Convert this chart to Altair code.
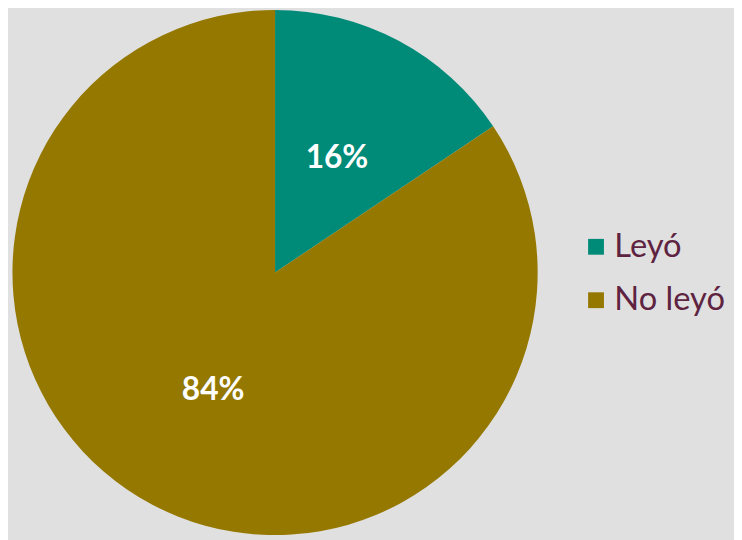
import altair as alt
import pandas as pd

categories = ["Leyó", "No leyó"]
values = [15.6, 84.4]
labels = ["16%", "84%"]
colors = ["#008a78", "#957800"]

df = pd.DataFrame({"cat": categories, "val": values, "lbl": labels, "ord": [0, 1]})

cx, cy, R = 270, 264.5, 265.5

base = alt.Chart(df).encode(
    theta=alt.Theta("val:Q", stack=True),
    order=alt.Order("ord:Q"),
)

pie = base.mark_arc(outerRadius=R, stroke=None).encode(
    x=alt.value(cx),
    y=alt.value(cy),
    color=alt.Color(
        "cat:N",
        scale=alt.Scale(domain=categories, range=colors),
        sort=categories,
        legend=alt.Legend(
            title=None,
            orient="none",
            legendX=578,
            legendY=222,
            symbolType="square",
            symbolSize=256,
            symbolStrokeWidth=0,
            labelFontSize=33,
            labelFont="Lato",
            labelColor="#5e2340",
            rowPadding=20,
            labelOffset=2,
        ),
    ),
)

text = base.mark_text(radius=133, fontSize=32, font="Lato", fontWeight="bold", color="white").encode(
    x=alt.value(cx),
    y=alt.value(cy + 2),
    text="lbl:N",
)

chart = (pie + text).properties(
    width=734,
    height=532,
    background="#e0e0e0",
    padding=0,
    autosize=alt.AutoSizeParams(type="none"),
).configure_view(stroke=None)

chart.save("out.html", embed_options={"renderer": "svg", "actions": False})
